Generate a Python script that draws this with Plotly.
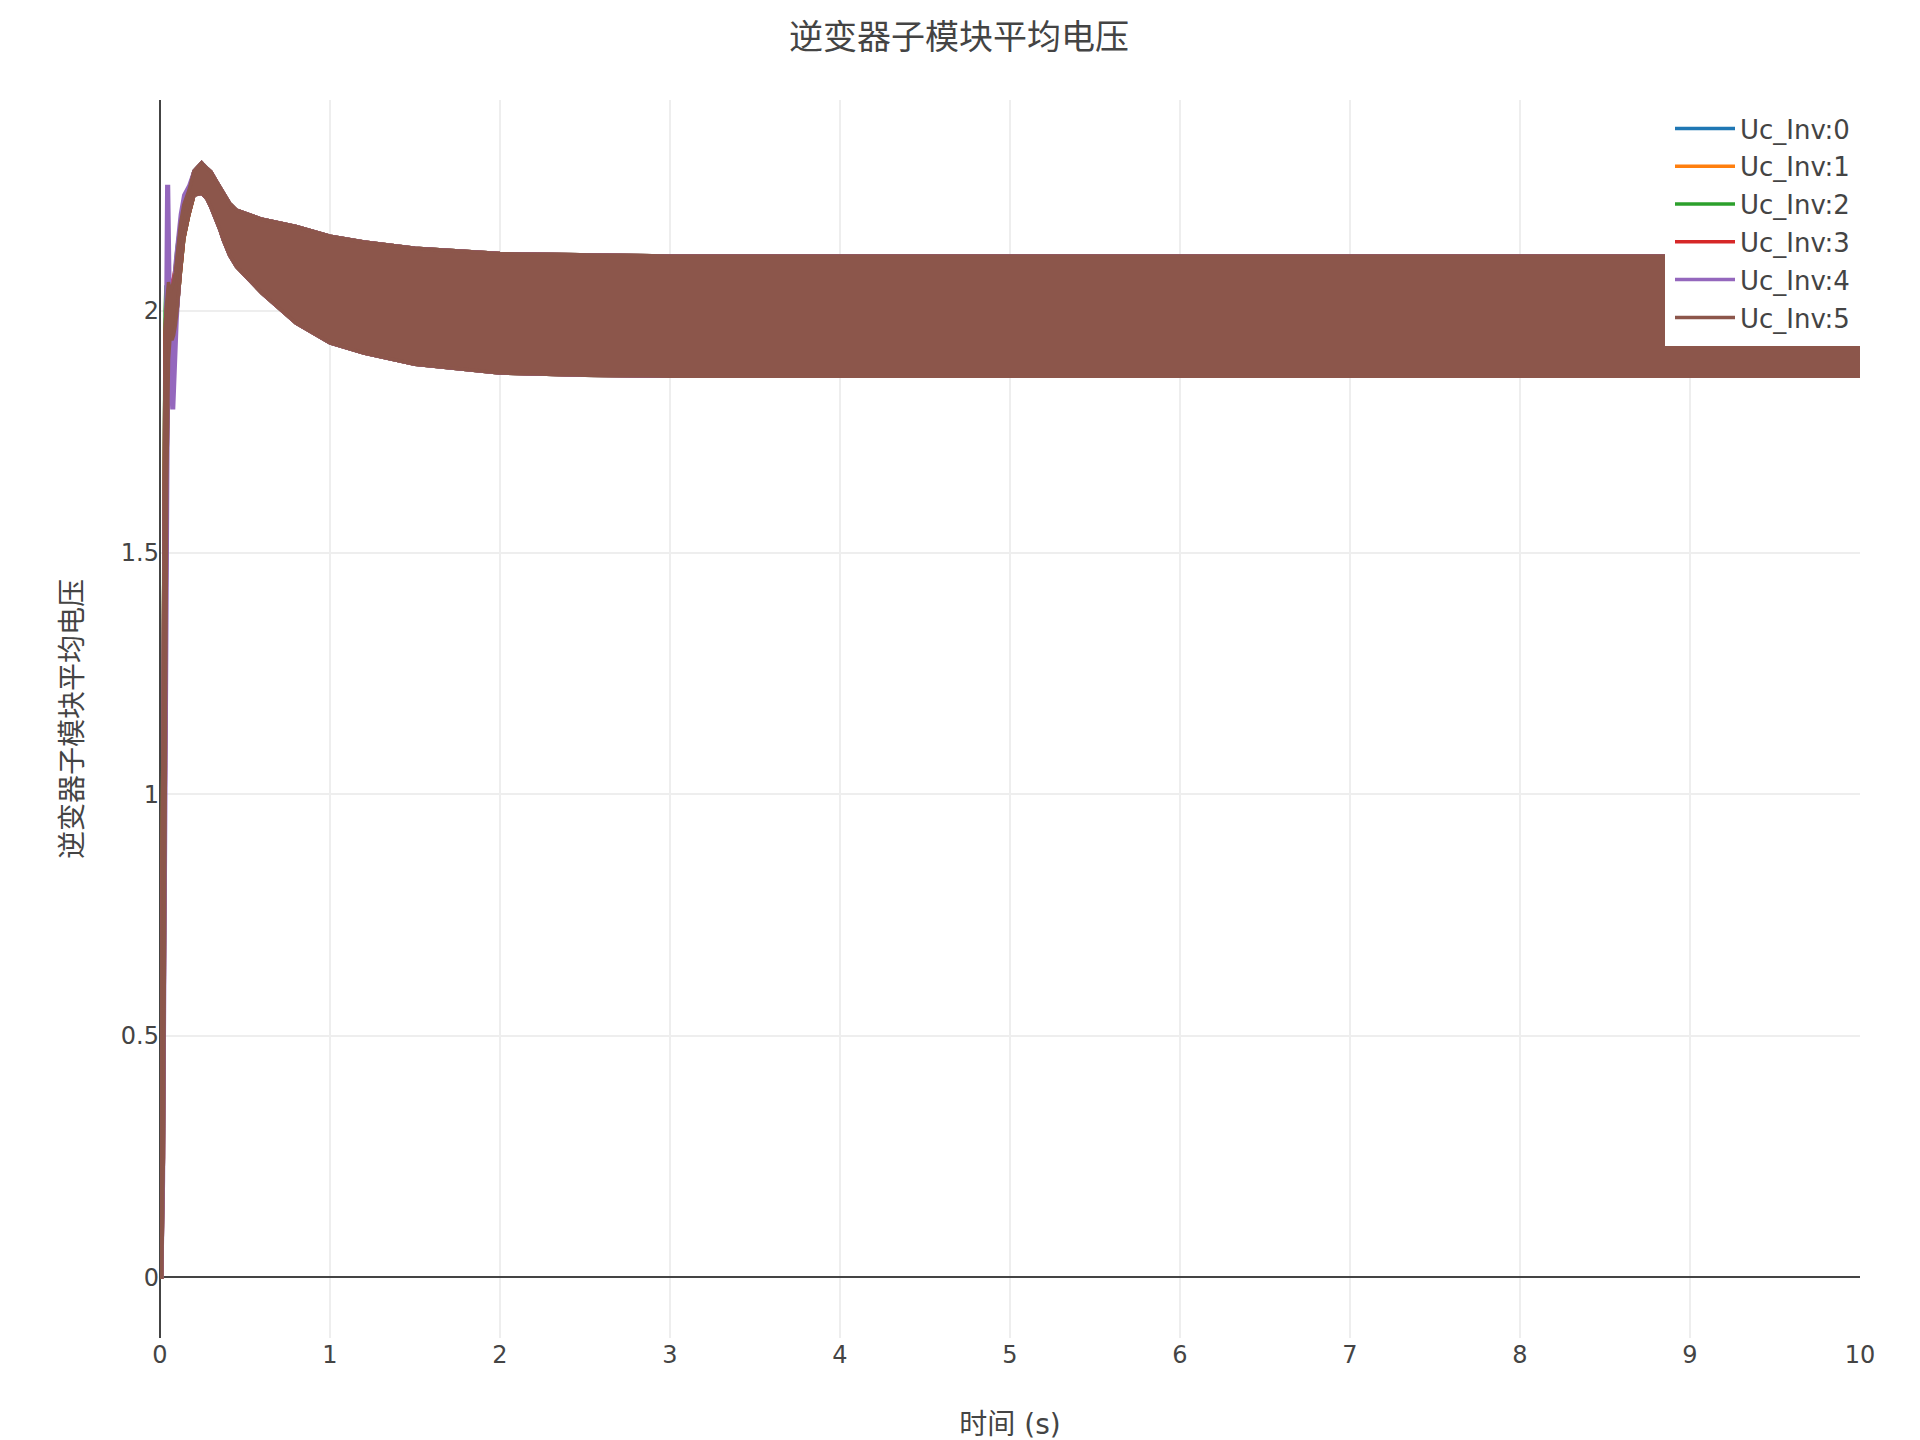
import plotly.graph_objects as go

# ---------------- data ----------------
SERIES_NAMES = ["Uc_Inv:0", "Uc_Inv:1", "Uc_Inv:2", "Uc_Inv:3", "Uc_Inv:4", "Uc_Inv:5"]
COLORS = ["#1f77b4", "#ff7f0e", "#2ca02c", "#d62728", "#9467bd", "#8c564b"]

# start-up transient (s)
T_EARLY = [0, 0.01, 0.02, 0.03, 0.035, 0.04, 0.05, 0.055, 0.06, 0.07, 0.08, 0.09, 0.1, 0.12, 0.14, 0.17]

UPPER_EARLY_0 = [0, 0.6, 1.5, 1.95, 2.0, 2.03, 2.06, 2.05, 2.04, 2.05, 2.06, 2.08, 2.12, 2.18, 2.22, 2.25]
LOWER_EARLY_0 = [0, 0.0, 0.25, 0.9, 1.3, 1.65, 1.9, 1.93, 1.95, 1.94, 1.95, 1.97, 2.0, 2.08, 2.15, 2.2]
UPPER_EARLY_1 = [0, 0.6, 1.5, 1.95, 2.0, 2.03, 2.06, 2.05, 2.04, 2.05, 2.06, 2.08, 2.12, 2.18, 2.22, 2.25]
LOWER_EARLY_1 = [0, 0.0, 0.25, 0.9, 1.3, 1.65, 1.9, 1.93, 1.95, 1.94, 1.95, 1.97, 2.0, 2.08, 2.15, 2.2]
UPPER_EARLY_2 = [0, 0.75, 1.6, 2.0, 2.05, 2.05, 2.06, 2.05, 2.04, 2.05, 2.06, 2.09, 2.13, 2.18, 2.22, 2.25]
LOWER_EARLY_2 = [0, 0.0, 0.3, 0.95, 1.35, 1.7, 1.9, 1.92, 1.93, 1.94, 1.95, 1.97, 2.0, 2.08, 2.15, 2.2]
UPPER_EARLY_3 = [0, 0.6, 1.5, 1.95, 2.0, 2.03, 2.06, 2.05, 2.05, 2.06, 2.07, 2.09, 2.12, 2.18, 2.22, 2.25]
LOWER_EARLY_3 = [0, 0.0, 0.25, 0.9, 1.3, 1.65, 1.9, 1.93, 1.95, 1.94, 1.95, 1.97, 2.0, 2.08, 2.15, 2.2]
UPPER_EARLY_4 = [0, 0.4, 1.3, 1.9, 2.1, 2.258, 2.258, 2.1, 2.0, 2.05, 2.05, 2.1, 2.14, 2.2, 2.24, 2.26]
LOWER_EARLY_4 = [0, 0.0, 0.2, 0.8, 1.2, 1.6, 1.95, 1.9, 1.85, 1.8, 1.8, 1.9, 1.98, 2.1, 2.16, 2.21]
UPPER_EARLY_5 = [0, 0.6, 1.5, 1.95, 2.0, 2.03, 2.06, 2.05, 2.04, 2.05, 2.06, 2.08, 2.12, 2.18, 2.22, 2.25]
LOWER_EARLY_5 = [0, 0.0, 0.25, 0.9, 1.3, 1.65, 1.9, 1.93, 1.95, 1.94, 1.95, 1.97, 2.0, 2.08, 2.15, 2.2]

# common settling part: envelope of the ripple (s, p.u.)
T_LATE = [0.2, 0.245, 0.275, 0.3, 0.333, 0.353, 0.373, 0.41, 0.45, 0.51, 0.6, 0.8, 1.0, 1.2, 1.5,
          2.0, 2.5, 3.0, 4, 5, 6, 7, 8, 9, 10]
UPPER_LATE = [2.29, 2.307, 2.296, 2.288, 2.268, 2.257, 2.243, 2.223, 2.209, 2.202, 2.19, 2.175, 2.155,
              2.143, 2.13, 2.119, 2.116, 2.114, 2.114, 2.114, 2.114, 2.114, 2.114, 2.114, 2.114]
LOWER_LATE = [2.24, 2.244, 2.233, 2.215, 2.188, 2.168, 2.147, 2.115, 2.092, 2.071, 2.037, 1.975, 1.934,
              1.913, 1.89, 1.872, 1.867, 1.865, 1.865, 1.865, 1.865, 1.865, 1.865, 1.865, 1.865]

UPPER_EARLY = [UPPER_EARLY_0, UPPER_EARLY_1, UPPER_EARLY_2, UPPER_EARLY_3, UPPER_EARLY_4, UPPER_EARLY_5]
LOWER_EARLY = [LOWER_EARLY_0, LOWER_EARLY_1, LOWER_EARLY_2, LOWER_EARLY_3, LOWER_EARLY_4, LOWER_EARLY_5]

X_TICKS = [0, 1, 2, 3, 4, 5, 6, 7, 8, 9, 10]
Y_TICKS = [0, 0.5, 1, 1.5, 2]
Y_TICK_TEXT = ["0", "0.5", "1", "1.5", "2"]

# ---------------- figure ----------------
FONT = "DejaVu Sans, Verdana, Noto Sans CJK SC, sans-serif"
fig = go.Figure()

t_all = T_EARLY + T_LATE
for k, name in enumerate(SERIES_NAMES):
    up = UPPER_EARLY[k] + UPPER_LATE
    lo = LOWER_EARLY[k] + LOWER_LATE
    fig.add_trace(go.Scatter(
        x=t_all, y=up, mode="lines", name=name, legendgroup=name,
        line=dict(color=COLORS[k], width=3.5), showlegend=True))
    fig.add_trace(go.Scatter(
        x=t_all, y=lo, mode="lines", name=name, legendgroup=name,
        line=dict(color=COLORS[k], width=3.5), fill="tonexty",
        fillcolor=COLORS[k], showlegend=False))

fig.update_layout(
    width=1920, height=1440,
    paper_bgcolor="white", plot_bgcolor="white",
    font=dict(family=FONT, color="#444", size=24),
    margin=dict(l=152, r=68, t=92, b=110),
    title=dict(text="逆变器子模块平均电压", x=0.4953, xanchor="center",
               y=1 - 29 / 1440, yanchor="middle", yref="container",
               font=dict(size=34, family=FONT, color="#444")),
    showlegend=True,
    legend=dict(x=1, xanchor="right", y=1, yanchor="top", bgcolor="white",
                bordercolor="white", borderwidth=5,
                font=dict(size=26, family=FONT, color="#444"),
                itemwidth=60, tracegroupgap=1),
    xaxis=dict(range=[0, 10], tickvals=X_TICKS, ticktext=[str(v) for v in X_TICKS],
               showgrid=True, gridcolor="#eeeeee", gridwidth=1.5,
               zeroline=True, zerolinecolor="#444", zerolinewidth=2,
               showline=False, ticks="",
               title=dict(text="时间 (s)", font=dict(size=28, family=FONT, color="#444"),
                          standoff=46),
               tickfont=dict(size=24, family=FONT, color="#444")),
    yaxis=dict(range=[-0.126, 2.437], tickvals=Y_TICKS, ticktext=Y_TICK_TEXT,
               showgrid=True, gridcolor="#eeeeee", gridwidth=1.5,
               zeroline=True, zerolinecolor="#444", zerolinewidth=2,
               showline=False, ticks="",
               title=dict(text="逆变器子模块平均电压", font=dict(size=28, family=FONT, color="#444"),
                          standoff=30),
               tickfont=dict(size=24, family=FONT, color="#444")),
)

fig.write_html("out.html")
